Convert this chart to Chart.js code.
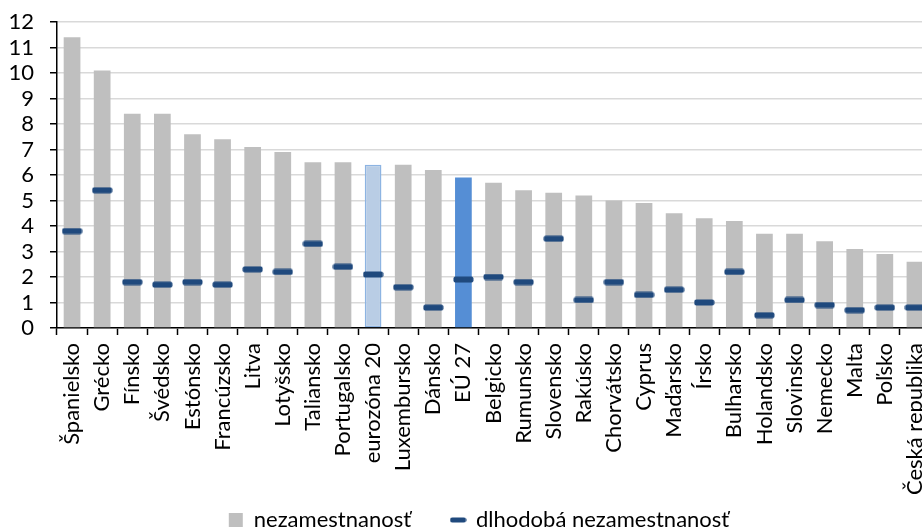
<!DOCTYPE html>
<html>
<head>
<meta charset="utf-8">
<script src="https://cdn.jsdelivr.net/npm/chart.js@4"></script>
<style>
  html, body { margin: 0; padding: 0; background: #fff; }
  #wrap { width: 922px; height: 530px; overflow: hidden; position: relative; }
  canvas { display: block; }
</style>
</head>
<body>
<div id="wrap"><canvas id="c" width="958" height="541"></canvas></div>
<script>
// Miera nezamestnanosti a dlhodobej nezamestnanosti (%)
const categories = ["Španielsko", "Grécko", "Fínsko", "Švédsko", "Estónsko", "Francúzsko", "Litva", "Lotyšsko",
  "Taliansko", "Portugalsko", "eurozóna 20", "Luxembursko", "Dánsko", "EÚ 27", "Belgicko", "Rumunsko",
  "Slovensko", "Rakúsko", "Chorvátsko", "Cyprus", "Maďarsko", "Írsko", "Bulharsko", "Holandsko",
  "Slovinsko", "Nemecko", "Malta", "Poľsko", "Česká republika"];
const unemployment = [11.4, 10.1, 8.4, 8.4, 7.6, 7.4, 7.1, 6.9, 6.5, 6.5, 6.4, 6.4, 6.2, 5.9, 5.7, 5.4,
  5.3, 5.2, 5.0, 4.9, 4.5, 4.3, 4.2, 3.7, 3.7, 3.4, 3.1, 2.9, 2.6];
const longTermUnemployment = [3.8, 5.4, 1.8, 1.7, 1.8, 1.7, 2.3, 2.2, 3.3, 2.4, 2.1, 1.6, 0.8, 1.9, 2.0, 1.8,
  3.5, 1.1, 1.8, 1.3, 1.5, 1.0, 2.2, 0.5, 1.1, 0.9, 0.7, 0.8, 0.8];
const yTicks = [0, 1, 2, 3, 4, 5, 6, 7, 8, 9, 10, 11, 12];
const seriesNames = ["nezamestnanosť", "dlhodobá nezamestnanosť"];

const FONT = "Lato";
const GREY = "#bfbfbf";
const DASH = "#1f497d";

// Aggregates (euro area, EU) are highlighted in blue
const barFill = categories.map(c => c === "eurozóna 20" ? "#b9cde5" : c === "EÚ 27" ? "#558ed5" : GREY);
const barBorder = categories.map(c => c === "eurozóna 20" ? "#8db4e2" : "rgba(0,0,0,0)");
const barBorderW = categories.map(c => c === "eurozóna 20" ? 1.5 : 0);

// Short thick dash used as the marker of the long-term series
function makeDash(w, h, r) {
  const cv = document.createElement("canvas");
  cv.width = w; cv.height = h;
  const g = cv.getContext("2d");
  g.fillStyle = DASH;
  g.beginPath();
  g.roundRect(0.5, 0.5, w - 1, h - 1, r);
  g.fill();
  return cv;
}
const dashMarker = makeDash(21, 7, 2);
const legendDash = makeDash(17, 6, 2);

// Let long rotated category labels run past the axis box
const unclipLabels = {
  id: "unclipLabels",
  beforeDraw(chart) {
    Object.values(chart.scales).forEach(s => { s._computeLabelArea = () => undefined; });
  }
};

new Chart(document.getElementById("c"), {
  data: {
    labels: categories,
    datasets: [
      {
        type: "bar",
        label: seriesNames[0],
        data: unemployment,
        backgroundColor: barFill,
        borderColor: barBorder,
        borderWidth: barBorderW,
        borderSkipped: false,
        barPercentage: 0.555,
        categoryPercentage: 1,
        order: 2
      },
      {
        type: "line",
        label: seriesNames[1],
        data: longTermUnemployment,
        showLine: false,
        pointStyle: dashMarker,
        pointRadius: 10,
        pointHoverRadius: 10,
        order: 1
      }
    ]
  },
  plugins: [unclipLabels],
  options: {
    responsive: false,
    animation: false,
    devicePixelRatio: 1,
    events: [],
    layout: { padding: { left: 0, right: 0, top: 22, bottom: 0 } },
    plugins: {
      tooltip: { enabled: false },
      legend: {
        position: "bottom",
        labels: {
          usePointStyle: true,
          boxHeight: 14,
          pointStyleWidth: 14,
          padding: 40,
          color: "#000",
          font: { family: FONT, size: 22 },
          generateLabels: () => [
            { text: seriesNames[0], fillStyle: GREY, strokeStyle: GREY, lineWidth: 0, pointStyle: "rect", datasetIndex: 0, hidden: false },
            { text: seriesNames[1], fillStyle: DASH, strokeStyle: DASH, lineWidth: 0, pointStyle: legendDash, datasetIndex: 1, hidden: false }
          ]
        }
      }
    },
    scales: {
      x: {
        offset: true,
        afterFit: s => { s.height = 141; s.paddingLeft = 0; s.paddingRight = 0; },
        grid: {
          offset: true,
          drawOnChartArea: false,
          drawTicks: true,
          tickLength: 7,
          tickColor: "#000",
          tickWidth: 1.5
        },
        border: { color: "#000", width: 1.5 },
        ticks: {
          autoSkip: false,
          maxRotation: 90,
          minRotation: 90,
          padding: 8,
          color: "#000",
          font: { family: FONT, size: 22 }
        }
      },
      y: {
        min: 0,
        max: 12,
        afterFit: s => { s.width = 57; s.paddingTop = 0; s.paddingBottom = 0; },
        afterBuildTicks: s => { s.ticks = yTicks.map(v => ({ value: v })); },
        grid: {
          color: "#d9d9d9",
          lineWidth: 1.5,
          drawTicks: true,
          tickLength: 7,
          tickColor: "#000",
          tickWidth: 1.5
        },
        border: { color: "#000", width: 1.5 },
        ticks: {
          autoSkip: false,
          padding: 16,
          color: "#000",
          font: { family: FONT, size: 22 }
        }
      },
      // empty right-hand gutter; the plot runs on past the visible page edge
      gutter: {
        position: "right",
        afterFit: s => { s.width = 28; s.paddingTop = 0; s.paddingBottom = 0; },
        grid: { display: false, drawTicks: false },
        border: { display: false },
        ticks: { display: false }
      }
    }
  }
});
</script>
</body>
</html>
